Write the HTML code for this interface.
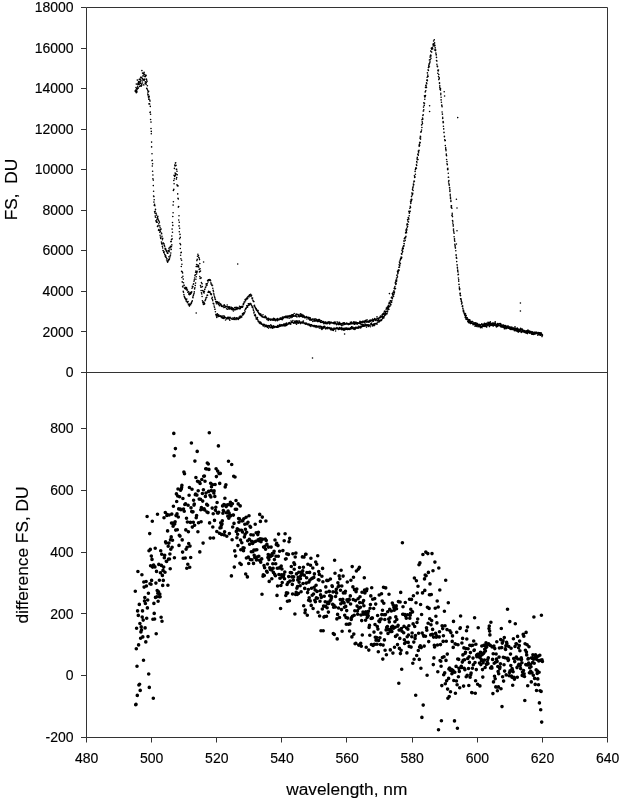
<!DOCTYPE html>
<html lang="en">
<head>
<meta charset="utf-8">
<title>FS spectra and difference</title>
<style>
html,body{margin:0;padding:0;background:#fff;}
body{width:622px;height:801px;overflow:hidden;}
svg{display:block;}
text{font-family:"Liberation Sans",Arial,sans-serif;fill:#000;stroke:#000;stroke-width:.15px;}
.tk text{font-size:14px;}
.ax{font-size:17.3px;}
</style>
</head>
<body>
<svg width="622" height="801" viewBox="0 0 622 801">
<rect width="622" height="801" fill="#fff"/>
<path d="M86.5 7.5H607.5V737.5H86.5ZM86.5 372.5H607.5" fill="none" stroke="#333" stroke-width="1"/>
<path d="M81 372.5H86.5M81 331.5H86.5M81 291.5H86.5M81 250.5H86.5M81 210.5H86.5M81 169.5H86.5M81 129.5H86.5M81 88.5H86.5M81 48.5H86.5M81 7.5H86.5M81 737.5H86.5M81 675.5H86.5M81 613.5H86.5M81 552.5H86.5M81 490.5H86.5M81 428.5H86.5M86.5 737.5V742.5M151.5 737.5V742.5M216.5 737.5V742.5M281.5 737.5V742.5M346.5 737.5V742.5M412.5 737.5V742.5M477.5 737.5V742.5M542.5 737.5V742.5M607.5 737.5V742.5" fill="none" stroke="#333" stroke-width="1"/>
<g class="tk">
<text x="73.6" y="377.1" text-anchor="end">0</text>
<text x="73.6" y="336.5" text-anchor="end">2000</text>
<text x="73.6" y="296" text-anchor="end">4000</text>
<text x="73.6" y="255.4" text-anchor="end">6000</text>
<text x="73.6" y="214.9" text-anchor="end">8000</text>
<text x="73.6" y="174.3" text-anchor="end">10000</text>
<text x="73.6" y="133.8" text-anchor="end">12000</text>
<text x="73.6" y="93.2" text-anchor="end">14000</text>
<text x="73.6" y="52.7" text-anchor="end">16000</text>
<text x="73.6" y="12.1" text-anchor="end">18000</text>
<text x="73.6" y="742.1" text-anchor="end">-200</text>
<text x="73.6" y="680.3" text-anchor="end">0</text>
<text x="73.6" y="618.5" text-anchor="end">200</text>
<text x="73.6" y="556.7" text-anchor="end">400</text>
<text x="73.6" y="494.9" text-anchor="end">600</text>
<text x="73.6" y="433.1" text-anchor="end">800</text>
<text x="86.6" y="762.8" text-anchor="middle">480</text>
<text x="151.7" y="762.8" text-anchor="middle">500</text>
<text x="216.8" y="762.8" text-anchor="middle">520</text>
<text x="282" y="762.8" text-anchor="middle">540</text>
<text x="347.1" y="762.8" text-anchor="middle">560</text>
<text x="412.2" y="762.8" text-anchor="middle">580</text>
<text x="477.4" y="762.8" text-anchor="middle">600</text>
<text x="542.5" y="762.8" text-anchor="middle">620</text>
<text x="607.6" y="762.8" text-anchor="middle">640</text>
</g>
<text class="ax" x="346.8" y="795.3" text-anchor="middle">wavelength, nm</text>
<text class="ax" transform="translate(17.4 189.5) rotate(-90)" text-anchor="middle" style="white-space:pre">FS,  DU</text>
<text class="ax" transform="translate(28.3 555) rotate(-90)" text-anchor="middle">difference FS, DU</text>
<path d="M135.3 91.4h.01M135.7 90.1h.01M136 91.4h.01M136.3 92.7h.01M136.6 90.9h.01M137 91.9h.01M137.3 88.3h.01M137.6 84.1h.01M137.9 88.4h.01M138.3 88.1h.01M138.6 84.5h.01M138.9 84.2h.01M139.3 84.3h.01M139.6 86.4h.01M139.9 83.6h.01M140.2 81.4h.01M140.6 85.8h.01M140.9 83.2h.01M141.2 86.2h.01M141.5 84.3h.01M141.9 85.1h.01M142.2 81h.01M142.5 83h.01M142.8 79.3h.01M143.2 79.4h.01M143.5 80h.01M143.8 84.9h.01M144.1 80.5h.01M144.5 79.4h.01M144.8 79.2h.01M145.1 83.2h.01M145.4 81.8h.01M145.8 83.7h.01M146.1 84.5h.01M146.4 82.4h.01M146.7 88.4h.01M147.1 89h.01M147.4 89.2h.01M147.7 94h.01M148 95.1h.01M148.4 96.9h.01M148.7 99.2h.01M149 103.9h.01M149.3 103.7h.01M149.7 104h.01M150 112.5h.01M150.3 112.1h.01M150.6 119.5h.01M151 128.5h.01M151.3 133.8h.01M151.6 146.9h.01M152 160.6h.01M152.3 166h.01M152.6 171.3h.01M152.9 178.7h.01M153.3 185.6h.01M153.6 196.1h.01M153.9 202.1h.01M154.2 205.2h.01M154.6 211.5h.01M154.9 212.9h.01M155.2 216.1h.01M155.5 217.3h.01M155.9 220.8h.01M156.2 221.5h.01M156.5 222.3h.01M156.8 221.8h.01M157.2 222.3h.01M157.5 226.4h.01M157.8 226.5h.01M158.1 225.6h.01M158.5 230.3h.01M158.8 229.5h.01M159.1 230.4h.01M159.4 230.1h.01M159.8 232.3h.01M160.1 235.2h.01M160.4 237h.01M160.7 238.5h.01M161.1 238h.01M161.4 242h.01M161.7 243.4h.01M162 244.2h.01M162.4 246.4h.01M162.7 248h.01M163 250.6h.01M163.3 250.7h.01M163.7 252.5h.01M164 251.6h.01M164.3 253.1h.01M164.7 254.8h.01M165 254.7h.01M165.3 256.6h.01M165.6 255.6h.01M166 257.4h.01M166.3 257.3h.01M166.6 260h.01M166.9 258.6h.01M167.3 261.5h.01M167.6 262.2h.01M167.9 260.3h.01M168.2 261h.01M168.6 259.5h.01M168.9 256.7h.01M169.2 259.7h.01M169.5 258.8h.01M169.9 257.1h.01M170.2 255.8h.01M170.5 255h.01M170.8 253h.01M171.2 249.4h.01M171.5 246.8h.01M171.8 244.9h.01M172.1 238.9h.01M172.5 232.2h.01M172.8 225.4h.01M173.1 212.8h.01M173.4 201.8h.01M173.8 189.4h.01M174.1 183.7h.01M174.4 178.8h.01M174.7 176.4h.01M175.1 173.1h.01M175.4 175.3h.01M175.7 174.7h.01M176 173.8h.01M176.4 179.1h.01M176.7 177.5h.01M177 184.8h.01M177.3 185.8h.01M177.7 193.9h.01M178 198.4h.01M178.3 207.1h.01M178.7 220h.01M179 225.9h.01M179.3 231.8h.01M179.6 238.7h.01M180 243.5h.01M180.3 248.5h.01M180.6 255.3h.01M180.9 258.8h.01M181.3 266.5h.01M181.6 271.4h.01M181.9 277.5h.01M182.2 281.9h.01M182.6 286.2h.01M182.9 286.9h.01M183.2 291.3h.01M183.5 292.3h.01M183.9 294.6h.01M184.2 296.3h.01M184.5 296.9h.01M184.8 297.9h.01M185.2 298h.01M185.5 299h.01M185.8 299.5h.01M186.1 301h.01M186.5 301h.01M186.8 299.1h.01M187.1 301.8h.01M187.4 302.7h.01M187.8 301.9h.01M188.1 301.5h.01M188.4 304.7h.01M188.7 304h.01M189.1 304.8h.01M189.4 306.1h.01M189.7 304h.01M190 304.7h.01M190.4 304.5h.01M190.7 304.8h.01M191 303.1h.01M191.4 303.2h.01M191.7 301.9h.01M192 301.8h.01M192.3 300.8h.01M192.7 297.1h.01M193 297.7h.01M193.3 295.7h.01M193.6 294.7h.01M194 293.6h.01M194.3 291.9h.01M194.6 288.9h.01M194.9 287.8h.01M195.3 285.5h.01M195.6 283.1h.01M195.9 279.3h.01M196.2 276.7h.01M196.6 274h.01M196.9 272.4h.01M197.2 271.2h.01M197.5 266.6h.01M197.9 265.1h.01M198.2 265.7h.01M198.5 265.6h.01M198.8 267.1h.01M199.2 269.4h.01M199.5 271.9h.01M199.8 276.5h.01M200.1 278.4h.01M200.5 285.5h.01M200.8 287.1h.01M201.1 290.5h.01M201.4 292.7h.01M201.8 294h.01M202.1 296.5h.01M202.4 300.7h.01M202.7 302.7h.01M203.1 301.8h.01M203.4 304.5h.01M203.7 303.7h.01M204.1 302.5h.01M204.4 304.1h.01M204.7 303.7h.01M205 300.7h.01M205.4 300h.01M205.7 299.3h.01M206 297.9h.01M206.3 297.7h.01M206.7 297.4h.01M207 295.2h.01M207.3 295.3h.01M207.6 295.2h.01M208 292.3h.01M208.3 292.3h.01M208.6 291.2h.01M208.9 292.2h.01M209.3 291.7h.01M209.6 292.1h.01M209.9 292.4h.01M210.2 292h.01M210.6 293.9h.01M210.9 293.7h.01M211.2 294.8h.01M211.5 294.1h.01M211.9 298.5h.01M212.2 297.4h.01M212.5 299.6h.01M212.8 300.8h.01M213.2 303.4h.01M213.5 303.7h.01M213.8 303.9h.01M214.1 306h.01M214.5 307.3h.01M214.8 309.2h.01M215.1 309.3h.01M215.4 311.7h.01M215.8 314.7h.01M216.1 314.3h.01M216.4 316h.01M216.8 317.4h.01M217.1 315.2h.01M217.4 313.8h.01M217.7 315.2h.01M218.1 316.4h.01M218.4 316.4h.01M218.7 314.8h.01M219 315.8h.01M219.4 316h.01M219.7 316.2h.01M220 316.3h.01M220.3 315.7h.01M220.7 316h.01M221 316.4h.01M221.3 317.6h.01M221.6 316.3h.01M222 317.4h.01M222.3 316h.01M222.6 318.1h.01M222.9 317.2h.01M223.3 317.2h.01M223.6 318.4h.01M223.9 315.9h.01M224.2 316.2h.01M224.6 317.9h.01M224.9 317h.01M225.2 317.4h.01M225.5 320h.01M225.9 317.7h.01M226.2 318h.01M226.5 318h.01M226.8 319h.01M227.2 318.4h.01M227.5 318.4h.01M227.8 317.3h.01M228.1 318.1h.01M228.5 318.5h.01M228.8 317.3h.01M229.1 319.1h.01M229.4 319h.01M229.8 320.3h.01M230.1 317.4h.01M230.4 318h.01M230.8 318.1h.01M231.1 318.3h.01M231.4 318.8h.01M231.7 318.8h.01M232.1 319.2h.01M232.4 319.2h.01M232.7 319h.01M233 317.7h.01M233.4 318.5h.01M233.7 319h.01M234 319.5h.01M234.3 319.5h.01M234.7 317.5h.01M235 318.4h.01M235.3 318.8h.01M235.6 319.1h.01M236 319.6h.01M236.3 318.7h.01M236.6 317.8h.01M236.9 318.8h.01M237.3 318.6h.01M237.6 318.5h.01M237.9 318.1h.01M238.2 319.5h.01M238.6 318.2h.01M238.9 318.6h.01M239.2 317h.01M239.5 318.3h.01M239.9 317h.01M240.2 316.1h.01M240.5 317.5h.01M240.8 317.6h.01M241.2 316.7h.01M241.5 316.5h.01M241.8 317h.01M242.1 315.3h.01M242.5 313.5h.01M242.8 315h.01M243.1 314.4h.01M243.5 314.6h.01M243.8 312.8h.01M244.1 313.6h.01M244.4 312.9h.01M244.8 310.3h.01M245.1 311.7h.01M245.4 309.3h.01M245.7 308.3h.01M246.1 308.7h.01M246.4 307.8h.01M246.7 305.8h.01M247 307.2h.01M247.4 306.9h.01M247.7 307.1h.01M248 305.5h.01M248.3 303.8h.01M248.7 303.9h.01M249 305.3h.01M249.3 305h.01M249.6 304.4h.01M250 303.5h.01M250.3 303.9h.01M250.6 303.6h.01M250.9 303.9h.01M251.3 305h.01M251.6 305.5h.01M251.9 306.1h.01M252.2 307.2h.01M252.6 307.5h.01M252.9 307.1h.01M253.2 309h.01M253.5 310.4h.01M253.9 312.9h.01M254.2 312h.01M254.5 315.1h.01M254.8 315.6h.01M255.2 314.6h.01M255.5 315.5h.01M255.8 317h.01M256.2 318.9h.01M256.5 318.3h.01M256.8 319.1h.01M257.1 318.5h.01M257.5 317.6h.01M257.8 319.8h.01M258.1 321.1h.01M258.4 321.8h.01M258.8 321.3h.01M259.1 321.8h.01M259.4 323h.01M259.7 322.2h.01M260.1 323.6h.01M260.4 322h.01M260.7 322.4h.01M261 322.6h.01M261.4 324.1h.01M261.7 323.5h.01M262 324.2h.01M262.3 324.5h.01M262.7 324.7h.01M263 325.6h.01M263.3 325.9h.01M263.6 324.2h.01M264 325.1h.01M264.3 325h.01M264.6 324.5h.01M264.9 326.8h.01M265.3 326.2h.01M265.6 325.5h.01M265.9 325.5h.01M266.2 326.2h.01M266.6 325.2h.01M266.9 325.9h.01M267.2 327.2h.01M267.5 327.1h.01M267.9 325.8h.01M268.2 326.1h.01M268.5 328.1h.01M268.9 325.6h.01M269.2 326.2h.01M269.5 325.7h.01M269.8 327.1h.01M270.2 327.1h.01M270.5 327.8h.01M270.8 324.9h.01M271.1 327h.01M271.5 325.6h.01M271.8 327.4h.01M272.1 326.8h.01M272.4 328.2h.01M272.8 327.2h.01M273.1 326.1h.01M273.4 327.8h.01M273.7 325.9h.01M274.1 326.5h.01M274.4 327.5h.01M274.7 327.1h.01M275 327h.01M275.4 326.6h.01M275.7 326.9h.01M276 327.1h.01M276.3 326.7h.01M276.7 327.2h.01M277 327.3h.01M277.3 326.3h.01M277.6 325.5h.01M278 327.3h.01M278.3 326h.01M278.6 326.5h.01M278.9 326.7h.01M279.3 325.1h.01M279.6 326.2h.01M279.9 324.5h.01M280.2 326.2h.01M280.6 325.2h.01M280.9 325.6h.01M281.2 326h.01M281.5 324.8h.01M281.9 325.4h.01M282.2 324.7h.01M282.5 325.1h.01M282.9 325.9h.01M283.2 325h.01M283.5 324.8h.01M283.8 324h.01M284.2 325.5h.01M284.5 324.7h.01M284.8 325.9h.01M285.1 323.9h.01M285.5 325.2h.01M285.8 325.7h.01M286.1 324.2h.01M286.4 323.1h.01M286.8 325.2h.01M287.1 324.7h.01M287.4 324.3h.01M287.7 324.5h.01M288.1 323.2h.01M288.4 324h.01M288.7 323.8h.01M289 322.7h.01M289.4 323.7h.01M289.7 322.6h.01M290 323.6h.01M290.3 323.7h.01M290.7 324.2h.01M291 321h.01M291.3 322.7h.01M291.6 322.2h.01M292 322.3h.01M292.3 322.1h.01M292.6 322.1h.01M292.9 320.6h.01M293.3 323h.01M293.6 323.3h.01M293.9 322.9h.01M294.2 323.1h.01M294.6 321.4h.01M294.9 321.3h.01M295.2 322.8h.01M295.6 323.1h.01M295.9 322.3h.01M296.2 320.8h.01M296.5 324.3h.01M296.9 321.6h.01M297.2 322.9h.01M297.5 321.1h.01M297.8 322.9h.01M298.2 322.2h.01M298.5 323.2h.01M298.8 322.8h.01M299.1 320.9h.01M299.5 321.3h.01M299.8 322.3h.01M300.1 322.7h.01M300.4 323.6h.01M300.8 322.4h.01M301.1 322.1h.01M301.4 322.2h.01M301.7 322.3h.01M302.1 323.2h.01M302.4 322.4h.01M302.7 322.4h.01M303 321.4h.01M303.4 321.1h.01M303.7 322.8h.01M304 323.4h.01M304.3 323h.01M304.7 323.5h.01M305 323.7h.01M305.3 323.3h.01M305.6 324.2h.01M306 323h.01M306.3 323.6h.01M306.6 323.4h.01M306.9 323.9h.01M307.3 324.4h.01M307.6 324.7h.01M307.9 324.2h.01M308.3 324.5h.01M308.6 324h.01M308.9 324.3h.01M309.2 325.5h.01M309.6 324.4h.01M309.9 325.6h.01M310.2 325.1h.01M310.5 325h.01M310.9 326.5h.01M311.2 324.8h.01M311.5 324.9h.01M311.8 325.2h.01M312.2 325.5h.01M312.5 325.6h.01M312.8 326.1h.01M313.1 325.7h.01M313.5 326h.01M313.8 325.6h.01M314.1 326.7h.01M314.4 325.6h.01M314.8 325.8h.01M315.1 326.1h.01M315.4 326.4h.01M315.7 325.7h.01M316.1 327.5h.01M316.4 325.9h.01M316.7 326.2h.01M317 326.2h.01M317.4 326.2h.01M317.7 327.1h.01M318 326.9h.01M318.3 326.2h.01M318.7 326.4h.01M319 326.7h.01M319.3 328.1h.01M319.6 326.5h.01M320 326.1h.01M320.3 326.3h.01M320.6 326.9h.01M321 328.4h.01M321.3 326.5h.01M321.6 327.4h.01M321.9 329.4h.01M322.3 327.1h.01M322.6 328.6h.01M322.9 328.5h.01M323.2 328.1h.01M323.6 326.6h.01M323.9 328h.01M324.2 327.5h.01M324.5 326.4h.01M324.9 326.6h.01M325.2 327.9h.01M325.5 328.1h.01M325.8 328.9h.01M326.2 328.5h.01M326.5 327.7h.01M326.8 327.8h.01M327.1 328h.01M327.5 327.4h.01M327.8 328.8h.01M328.1 328.3h.01M328.4 327.7h.01M328.8 327.8h.01M329.1 327.5h.01M329.4 328h.01M329.7 328.6h.01M330.1 328.1h.01M330.4 329.2h.01M330.7 329.7h.01M331 328h.01M331.4 328.5h.01M331.7 328.3h.01M332 329.9h.01M332.3 328.9h.01M332.7 329.1h.01M333 329.3h.01M333.3 330.4h.01M333.6 328.9h.01M334 328h.01M334.3 328.4h.01M334.6 329.2h.01M335 328.8h.01M335.3 328.2h.01M335.6 331h.01M335.9 328.9h.01M336.3 328.4h.01M336.6 328.3h.01M336.9 327.6h.01M337.2 328h.01M337.6 328.7h.01M337.9 328.7h.01M338.2 328.3h.01M338.5 329.4h.01M338.9 329h.01M339.2 328.3h.01M339.5 327.5h.01M339.8 329.1h.01M340.2 329h.01M340.5 328.8h.01M340.8 328h.01M341.1 329h.01M341.5 327.9h.01M341.8 329.8h.01M342.1 329.1h.01M342.4 329.1h.01M342.8 328.4h.01M343.1 328.2h.01M343.4 330.1h.01M343.7 329.7h.01M344.1 328.7h.01M344.4 329.5h.01M344.7 330.1h.01M345 328.1h.01M345.4 328.5h.01M345.7 328.5h.01M346 329.2h.01M346.3 328h.01M346.7 329h.01M347 328h.01M347.3 329.5h.01M347.7 329.4h.01M348 328.6h.01M348.3 329.3h.01M348.6 328.2h.01M349 328.5h.01M349.3 329.4h.01M349.6 328.6h.01M349.9 328.9h.01M350.3 327.9h.01M350.6 329.1h.01M350.9 328.9h.01M351.2 327.6h.01M351.6 326.7h.01M351.9 326.9h.01M352.2 328.4h.01M352.5 328.2h.01M352.9 327.2h.01M353.2 328.4h.01M353.5 329.1h.01M353.8 328.2h.01M354.2 327.8h.01M354.5 328.8h.01M354.8 329.4h.01M355.1 329.2h.01M355.5 327.4h.01M355.8 328.5h.01M356.1 327.9h.01M356.4 327.6h.01M356.8 327.2h.01M357.1 327.9h.01M357.4 327.2h.01M357.7 328.2h.01M358.1 327.7h.01M358.4 328.1h.01M358.7 326.3h.01M359 327.2h.01M359.4 327.6h.01M359.7 327.3h.01M360 327.1h.01M360.4 326.3h.01M360.7 328h.01M361 327.5h.01M361.3 326.9h.01M361.7 324.5h.01M362 325.6h.01M362.3 326.4h.01M362.6 325.7h.01M363 324.5h.01M363.3 326.3h.01M363.6 326.3h.01M363.9 325h.01M364.3 325.5h.01M364.6 325.3h.01M364.9 326.2h.01M365.2 324.2h.01M365.6 324.3h.01M365.9 325.2h.01M366.2 325h.01M366.5 327.1h.01M366.9 324.9h.01M367.2 325.6h.01M367.5 325h.01M367.8 324.7h.01M368.2 325.5h.01M368.5 326.5h.01M368.8 324.8h.01M369.1 325.7h.01M369.5 325.3h.01M369.8 325.5h.01M370.1 325.2h.01M370.4 326.7h.01M370.8 323.8h.01M371.1 324.5h.01M371.4 323.8h.01M371.7 323h.01M372.1 324.5h.01M372.4 325.9h.01M372.7 325.1h.01M373.1 325.3h.01M373.4 324.6h.01M373.7 324.1h.01M374 325.7h.01M374.4 323.7h.01M374.7 325.1h.01M375 323.6h.01M375.3 323.8h.01M375.7 323.8h.01M376 323.5h.01M376.3 323.7h.01M376.6 323.6h.01M377 324.3h.01M377.3 322.8h.01M377.6 321h.01M377.9 320.7h.01M378.3 321.1h.01M378.6 321.3h.01M378.9 322.3h.01M379.2 320.2h.01M379.6 321.2h.01M379.9 321h.01M380.2 320.9h.01M380.5 320.3h.01M380.9 320.4h.01M381.2 319.9h.01M381.5 320.4h.01M381.8 319.5h.01M382.2 316.9h.01M382.5 318.5h.01M382.8 318.3h.01M383.1 317.3h.01M383.5 316.8h.01M383.8 317.9h.01M384.1 316.7h.01M384.4 315.3h.01M384.8 315.4h.01M385.1 315.1h.01M385.4 313.4h.01M385.7 314.8h.01M386.1 313.6h.01M386.4 313.6h.01M386.7 311.3h.01M387.1 313.7h.01M387.4 311.9h.01M387.7 311.1h.01M388 309.4h.01M388.4 308.7h.01M388.7 307.2h.01M389 309.2h.01M389.3 306.3h.01M389.7 306.4h.01M390 306h.01M390.3 304h.01M390.6 304.6h.01M391 304.8h.01M391.3 302.3h.01M391.6 302.4h.01M391.9 300.7h.01M392.3 298.7h.01M392.6 297.7h.01M392.9 295.4h.01M393.2 296.1h.01M393.6 296.2h.01M393.9 294.2h.01M394.2 293.1h.01M394.5 292.1h.01M394.9 289h.01M395.2 288.7h.01M395.5 288.6h.01M395.8 284.4h.01M396.2 283.7h.01M396.5 281.5h.01M396.8 280.1h.01M397.1 277.8h.01M397.5 276.7h.01M397.8 273.7h.01M398.1 272.9h.01M398.4 271.3h.01M398.8 269.7h.01M399.1 270.2h.01M399.4 267.2h.01M399.8 265.7h.01M400.1 263.6h.01M400.4 263.7h.01M400.7 258.6h.01M401.1 258.7h.01M401.4 258.5h.01M401.7 257.4h.01M402 254h.01M402.4 252.2h.01M402.7 251.4h.01M403 249h.01M403.3 248.5h.01M403.7 245.7h.01M404 245.9h.01M404.3 243.7h.01M404.6 241h.01M405 237.5h.01M405.3 240.3h.01M405.6 237.8h.01M405.9 236.4h.01M406.3 232.4h.01M406.6 232.8h.01M406.9 229.9h.01M407.2 227.3h.01M407.6 226.5h.01M407.9 224.5h.01M408.2 221.8h.01M408.5 222h.01M408.9 219.1h.01M409.2 215.7h.01M409.5 212.9h.01M409.8 211.2h.01M410.2 211.3h.01M410.5 207.4h.01M410.8 203.5h.01M411.1 201.7h.01M411.5 200.4h.01M411.8 199.4h.01M412.1 195.1h.01M412.5 194.6h.01M412.8 193.3h.01M413.1 190.5h.01M413.4 185.1h.01M413.8 184.7h.01M414.1 181.1h.01M414.4 181.3h.01M414.7 177h.01M415.1 177h.01M415.4 174.2h.01M415.7 168.1h.01M416 168.5h.01M416.4 168.2h.01M416.7 165.5h.01M417 162.7h.01M417.3 159.2h.01M417.7 159.7h.01M418 159.5h.01M418.3 155.2h.01M418.6 152.7h.01M419 150.4h.01M419.3 146.2h.01M419.6 145.4h.01M419.9 142.2h.01M420.3 142.7h.01M420.6 136.9h.01M420.9 132.3h.01M421.2 131.8h.01M421.6 130h.01M421.9 127.5h.01M422.2 122.1h.01M422.5 123.6h.01M422.9 119.1h.01M423.2 114.8h.01M423.5 111h.01M423.8 109.8h.01M424.2 105.4h.01M424.5 103.2h.01M424.8 99.3h.01M425.2 96.7h.01M425.5 95.5h.01M425.8 90.8h.01M426.1 86.7h.01M426.5 87.5h.01M426.8 83.8h.01M427.1 79.9h.01M427.4 80.8h.01M427.8 76.4h.01M428.1 76.5h.01M428.4 70.5h.01M428.7 66.3h.01M429.1 64.8h.01M429.4 66.8h.01M429.7 63h.01M430 61.9h.01M430.4 59.8h.01M430.7 55h.01M431 58.2h.01M431.3 51.8h.01M431.7 52.1h.01M432 47.9h.01M432.3 48.8h.01M432.6 49h.01M433 46h.01M433.3 44h.01M433.6 44.6h.01M433.9 43.6h.01M434.3 45.9h.01M434.6 50h.01M434.9 45.8h.01M435.2 47.8h.01M435.6 50.6h.01M435.9 53.2h.01M436.2 54.5h.01M436.5 60.5h.01M436.9 64.2h.01M437.2 66.1h.01M437.5 66.2h.01M437.8 73.2h.01M438.2 70.9h.01M438.5 76.5h.01M438.8 79.6h.01M439.2 77.8h.01M439.5 82.8h.01M439.8 87.6h.01M440.1 89h.01M440.5 90.1h.01M440.8 93.3h.01M441.1 99.9h.01M441.4 102.3h.01M441.8 105.8h.01M442.1 112h.01M442.4 114.1h.01M442.7 118.4h.01M443.1 122.8h.01M443.4 126.2h.01M443.7 128.8h.01M444 132.3h.01M444.4 136.7h.01M444.7 139.8h.01M445 140.8h.01M445.3 145.6h.01M445.7 147.9h.01M446 150.8h.01M446.3 155.1h.01M446.6 155.8h.01M447 163.8h.01M447.3 164.6h.01M447.6 169.6h.01M447.9 169.6h.01M448.3 173.2h.01M448.6 181.9h.01M448.9 183.8h.01M449.2 184.8h.01M449.6 187.9h.01M449.9 191.4h.01M450.2 195.8h.01M450.5 198.4h.01M450.9 201.5h.01M451.2 205.9h.01M451.5 207.7h.01M451.9 215.5h.01M452.2 214.9h.01M452.5 220.5h.01M452.8 221.2h.01M453.2 226.1h.01M453.5 230.2h.01M453.8 231.9h.01M454.1 236.8h.01M454.5 240.1h.01M454.8 244.2h.01M455.1 245.5h.01M455.4 248.1h.01M455.8 250.7h.01M456.1 255.3h.01M456.4 257.2h.01M456.7 261.6h.01M457.1 264.9h.01M457.4 267.3h.01M457.7 270h.01M458 274.7h.01M458.4 278h.01M458.7 281.3h.01M459 284.4h.01M459.3 288.7h.01M459.7 289.7h.01M460 293.9h.01M460.3 295.5h.01M460.6 298.8h.01M461 299.7h.01M461.3 301.5h.01M461.6 304h.01M461.9 303.3h.01M462.3 306.3h.01M462.6 306.4h.01M462.9 308.4h.01M463.2 311.1h.01M463.6 311.9h.01M463.9 312.2h.01M464.2 313.5h.01M464.6 314.4h.01M464.9 315.5h.01M465.2 317.5h.01M465.5 316.8h.01M465.9 319.1h.01M466.2 317.5h.01M466.5 319h.01M466.8 319.5h.01M467.2 319.5h.01M467.5 319.6h.01M467.8 321.4h.01M468.1 322h.01M468.5 321.7h.01M468.8 322.8h.01M469.1 322.2h.01M469.4 320.4h.01M469.8 322.8h.01M470.1 321.7h.01M470.4 323.6h.01M470.7 322.4h.01M471.1 323.1h.01M471.4 323.1h.01M471.7 322.8h.01M472 322h.01M472.4 323.5h.01M472.7 323.7h.01M473 324.7h.01M473.3 323.6h.01M473.7 324.4h.01M474 323.7h.01M474.3 324.5h.01M474.6 323.2h.01M475 326.3h.01M475.3 325.1h.01M475.6 324.3h.01M475.9 325.4h.01M476.3 325.9h.01M476.6 325.5h.01M476.9 326.5h.01M477.2 325.4h.01M477.6 323.7h.01M477.9 324.8h.01M478.2 326.7h.01M478.6 326.5h.01M478.9 326.2h.01M479.2 325.1h.01M479.5 326.6h.01M479.9 326.5h.01M480.2 325.3h.01M480.5 325.3h.01M480.8 326.3h.01M481.2 326.9h.01M481.5 327.2h.01M481.8 326.5h.01M482.1 327.7h.01M482.5 325.2h.01M482.8 326.3h.01M483.1 325.4h.01M483.4 324.2h.01M483.8 324.7h.01M484.1 326.5h.01M484.4 324.9h.01M484.7 324.6h.01M485.1 326h.01M485.4 326.2h.01M485.7 325.4h.01M486 326.6h.01M486.4 324h.01M486.7 327.1h.01M487 326h.01M487.3 325.3h.01M487.7 325.2h.01M488 324.8h.01M488.3 324.7h.01M488.6 325.1h.01M489 323.9h.01M489.3 326.6h.01M489.6 324.8h.01M489.9 325.4h.01M490.3 324.7h.01M490.6 324.6h.01M490.9 325.5h.01M491.3 325.3h.01M491.6 324.2h.01M491.9 324.6h.01M492.2 325.4h.01M492.6 323.2h.01M492.9 323.1h.01M493.2 326.1h.01M493.5 324.7h.01M493.9 323h.01M494.2 324.4h.01M494.5 324.9h.01M494.8 325.3h.01M495.2 325.6h.01M495.5 325.4h.01M495.8 325.7h.01M496.1 324.7h.01M496.5 325.7h.01M496.8 325.8h.01M497.1 326.4h.01M497.4 325.6h.01M497.8 326.3h.01M498.1 325.8h.01M498.4 324.8h.01M498.7 325.4h.01M499.1 325.4h.01M499.4 325.5h.01M499.7 325.8h.01M500 326h.01M500.4 326.3h.01M500.7 325.5h.01M501 327h.01M501.3 325.2h.01M501.7 326.3h.01M502 327h.01M502.3 326.9h.01M502.6 327.1h.01M503 326.5h.01M503.3 327.3h.01M503.6 325.9h.01M504 327.5h.01M504.3 328.8h.01M504.6 327.7h.01M504.9 328.8h.01M505.3 327.3h.01M505.6 326.5h.01M505.9 326.9h.01M506.2 328.6h.01M506.6 328.2h.01M506.9 326.3h.01M507.2 327.6h.01M507.5 327.9h.01M507.9 327.1h.01M508.2 326.1h.01M508.5 327.1h.01M508.8 328.1h.01M509.2 328h.01M509.5 327.9h.01M509.8 328.9h.01M510.1 329.3h.01M510.5 328.5h.01M510.8 329.4h.01M511.1 328.8h.01M511.4 328.7h.01M511.8 327h.01M512.1 329.6h.01M512.4 329.1h.01M512.7 329.2h.01M513.1 328.8h.01M513.4 328.4h.01M513.7 329.7h.01M514 330h.01M514.4 330.7h.01M514.7 330.2h.01M515 329.2h.01M515.3 329.6h.01M515.7 330.5h.01M516 330.1h.01M516.3 329.8h.01M516.7 329.6h.01M517 330.5h.01M517.3 330.3h.01M517.6 331.6h.01M518 331.1h.01M518.3 329.1h.01M518.6 332.1h.01M518.9 330.7h.01M519.3 330.4h.01M519.6 330.9h.01M519.9 331.3h.01M520.2 330.8h.01M520.6 330.9h.01M520.9 331h.01M521.2 332.4h.01M521.5 331.2h.01M521.9 331.8h.01M522.2 331.7h.01M522.5 331.1h.01M522.8 330.9h.01M523.2 330.8h.01M523.5 331.9h.01M523.8 330.9h.01M524.1 330.8h.01M524.5 330.9h.01M524.8 330.8h.01M525.1 332h.01M525.4 332.1h.01M525.8 331.4h.01M526.1 333.1h.01M526.4 332h.01M526.7 332.6h.01M527.1 332.5h.01M527.4 333.6h.01M527.7 333h.01M528 332.4h.01M528.4 331.8h.01M528.7 331.8h.01M529 332.6h.01M529.4 332.8h.01M529.7 333.3h.01M530 332.4h.01M530.3 333h.01M530.7 332.4h.01M531 331.6h.01M531.3 333h.01M531.6 334.1h.01M532 333.7h.01M532.3 334.2h.01M532.6 334.1h.01M532.9 332.2h.01M533.3 333.1h.01M533.6 334.5h.01M533.9 332.9h.01M534.2 332.5h.01M534.6 333.8h.01M534.9 334.1h.01M535.2 333.9h.01M535.5 333.5h.01M535.9 333.2h.01M536.2 332.9h.01M536.5 332.9h.01M536.8 333h.01M537.2 332.9h.01M537.5 333.5h.01M537.8 335.2h.01M538.1 334.2h.01M538.5 333.9h.01M538.8 334.5h.01M539.1 333.6h.01M539.4 334.6h.01M539.8 335.1h.01M540.1 333.4h.01M540.4 334h.01M540.7 334.4h.01M541.1 334h.01M541.4 333.9h.01M541.7 334.5h.01M542 336.6h.01M542.4 335.4h.01M135.3 90.6h.01M135.7 91.7h.01M136 87.6h.01M136.3 84.1h.01M136.6 88.4h.01M137 89.6h.01M137.3 80.1h.01M137.6 86.2h.01M137.9 87.5h.01M138.3 82.8h.01M138.6 81.6h.01M138.9 83.8h.01M139.3 79.4h.01M139.6 82h.01M139.9 82.4h.01M140.2 79.1h.01M140.6 77.2h.01M140.9 80h.01M141.2 77.2h.01M141.5 77.7h.01M141.9 70.6h.01M142.2 78.2h.01M142.5 73.1h.01M142.8 76h.01M143.2 75.9h.01M143.5 73.9h.01M143.8 73.3h.01M144.1 72.4h.01M144.5 74.4h.01M144.8 76.4h.01M145.1 76.7h.01M145.4 75.3h.01M145.8 76.1h.01M146.1 75.4h.01M146.4 79.1h.01M146.7 80h.01M147.1 81.2h.01M147.4 85.7h.01M147.7 90.8h.01M148 92.2h.01M148.4 94.8h.01M148.7 91.2h.01M149 97.9h.01M149.3 96.3h.01M149.7 100.1h.01M150 101.1h.01M150.3 106.4h.01M150.6 114.3h.01M151 122.1h.01M151.3 131.4h.01M151.6 142.1h.01M152 153.7h.01M152.3 160.3h.01M152.6 163.7h.01M152.9 175h.01M153.3 180.1h.01M153.6 191.2h.01M153.9 196.6h.01M154.2 199.8h.01M154.6 204.2h.01M154.9 205.7h.01M155.2 211.2h.01M155.5 209.4h.01M155.9 213.5h.01M156.2 213.3h.01M156.5 215.1h.01M156.8 219.8h.01M157.2 218.1h.01M157.5 217.4h.01M157.8 216.4h.01M158.1 219.1h.01M158.5 220.2h.01M158.8 223.7h.01M159.1 221.3h.01M159.4 222.2h.01M159.8 225.9h.01M160.1 227.8h.01M160.4 231.2h.01M160.7 229.6h.01M161.1 229h.01M161.4 233h.01M161.7 233.8h.01M162 236.3h.01M162.4 239.7h.01M162.7 238.4h.01M163 243h.01M163.3 243h.01M163.7 243.6h.01M164 243.9h.01M164.3 245.4h.01M164.7 246.2h.01M165 248.3h.01M165.3 249.5h.01M165.6 248.5h.01M166 249.9h.01M166.3 251.1h.01M166.6 251.6h.01M166.9 251.1h.01M167.3 253.1h.01M167.6 252.8h.01M167.9 253.3h.01M168.2 251h.01M168.6 250.5h.01M168.9 248.2h.01M169.2 251.7h.01M169.5 250h.01M169.9 247.3h.01M170.2 247.7h.01M170.5 246.2h.01M170.8 241.6h.01M171.2 241.6h.01M171.5 239.6h.01M171.8 236h.01M172.1 229.1h.01M172.5 222.5h.01M172.8 216.5h.01M173.1 205.1h.01M173.4 190.4h.01M173.8 180.5h.01M174.1 175.4h.01M174.4 168.4h.01M174.7 165.1h.01M175.1 166h.01M175.4 163.1h.01M175.7 162.7h.01M176 165.4h.01M176.4 169.4h.01M176.7 169.3h.01M177 171.3h.01M177.3 174.7h.01M177.7 185.9h.01M178 185.9h.01M178.3 198.9h.01M178.7 206.6h.01M179 215.8h.01M179.3 222.3h.01M179.6 228.3h.01M180 234.4h.01M180.3 237.4h.01M180.6 244.7h.01M180.9 252.7h.01M181.3 252.4h.01M181.6 260.2h.01M181.9 264.3h.01M182.2 271.8h.01M182.6 272.9h.01M182.9 276.2h.01M183.2 279.1h.01M183.5 282.8h.01M183.9 285.2h.01M184.2 285.3h.01M184.5 288.1h.01M184.8 288.4h.01M185.2 287.3h.01M185.5 289h.01M185.8 288.7h.01M186.1 289.1h.01M186.5 287.6h.01M186.8 288.7h.01M187.1 290.5h.01M187.4 289.8h.01M187.8 292.2h.01M188.1 292.3h.01M188.4 291.6h.01M188.7 294.1h.01M189.1 293.6h.01M189.4 294.8h.01M189.7 293.6h.01M190 292.2h.01M190.4 294.3h.01M190.7 292.9h.01M191 293.4h.01M191.4 292.8h.01M191.7 291.9h.01M192 288.3h.01M192.3 286.3h.01M192.7 286.9h.01M193 286.8h.01M193.3 284.2h.01M193.6 283.9h.01M194 281.2h.01M194.3 279.9h.01M194.6 278h.01M194.9 275.6h.01M195.3 274.7h.01M195.6 272.3h.01M195.9 271.1h.01M196.2 266.6h.01M196.6 264.6h.01M196.9 260.6h.01M197.2 259.4h.01M197.5 256.2h.01M197.9 254.3h.01M198.2 255.7h.01M198.5 255.7h.01M198.8 257.6h.01M199.2 258.1h.01M199.5 259.6h.01M199.8 263.6h.01M200.1 268.8h.01M200.5 271.1h.01M200.8 278h.01M201.1 277.9h.01M201.4 282.6h.01M201.8 287h.01M202.1 283.8h.01M202.4 286.5h.01M202.7 290.5h.01M203.1 290.7h.01M203.4 292.1h.01M203.7 291.9h.01M204.1 293h.01M204.4 291.5h.01M204.7 289.6h.01M205 289h.01M205.4 287.2h.01M205.7 287.3h.01M206 284h.01M206.3 285.8h.01M206.7 283.9h.01M207 285.2h.01M207.3 283.8h.01M207.6 280.5h.01M208 282h.01M208.3 279.9h.01M208.6 279.9h.01M208.9 280.5h.01M209.3 279.6h.01M209.6 279.8h.01M209.9 280.2h.01M210.2 279.7h.01M210.6 280.7h.01M210.9 282.9h.01M211.2 284.3h.01M211.5 284.1h.01M211.9 285.5h.01M212.2 285.6h.01M212.5 285.2h.01M212.8 288.3h.01M213.2 290.4h.01M213.5 291.8h.01M213.8 293.7h.01M214.1 295.1h.01M214.5 296.7h.01M214.8 297.6h.01M215.1 299.1h.01M215.4 299.4h.01M215.8 301.6h.01M216.1 302.3h.01M216.4 303.8h.01M216.8 301.6h.01M217.1 302.8h.01M217.4 301.9h.01M217.7 303h.01M218.1 302.7h.01M218.4 304.4h.01M218.7 303.7h.01M219 302.2h.01M219.4 305.7h.01M219.7 303.8h.01M220 303.5h.01M220.3 304.8h.01M220.7 304.6h.01M221 304.3h.01M221.3 306.1h.01M221.6 305.2h.01M222 306.5h.01M222.3 306.4h.01M222.6 306.5h.01M222.9 306.2h.01M223.3 306h.01M223.6 305.9h.01M223.9 307.6h.01M224.2 304.8h.01M224.6 305.6h.01M224.9 306.1h.01M225.2 307.2h.01M225.5 307h.01M225.9 306.6h.01M226.2 306.8h.01M226.5 308.8h.01M226.8 306.8h.01M227.2 305h.01M227.5 309.2h.01M227.8 306.8h.01M228.1 307.5h.01M228.5 308h.01M228.8 306.8h.01M229.1 309.1h.01M229.4 308h.01M229.8 306.9h.01M230.1 308.5h.01M230.4 308.7h.01M230.8 308.3h.01M231.1 308.9h.01M231.4 307.2h.01M231.7 309.4h.01M232.1 307.9h.01M232.4 309.8h.01M232.7 308.1h.01M233 308.9h.01M233.4 311h.01M233.7 308.8h.01M234 309.7h.01M234.3 309.2h.01M234.7 307.5h.01M235 309.8h.01M235.3 309.7h.01M235.6 307.5h.01M236 308.7h.01M236.3 307.4h.01M236.6 308.4h.01M236.9 309.4h.01M237.3 308.7h.01M237.6 307.5h.01M237.9 307.7h.01M238.2 308.4h.01M238.6 308.3h.01M238.9 308.3h.01M239.2 308.7h.01M239.5 306.3h.01M239.9 307.9h.01M240.2 308.8h.01M240.5 308.1h.01M240.8 306.9h.01M241.2 306.8h.01M241.5 307.2h.01M241.8 307.3h.01M242.1 306.3h.01M242.5 307.3h.01M242.8 306.5h.01M243.1 304.1h.01M243.5 304.7h.01M243.8 303.4h.01M244.1 302h.01M244.4 302h.01M244.8 302h.01M245.1 299.6h.01M245.4 300.4h.01M245.7 300.7h.01M246.1 299h.01M246.4 298.6h.01M246.7 299.2h.01M247 297.7h.01M247.4 297.3h.01M247.7 298.6h.01M248 296.5h.01M248.3 296.2h.01M248.7 296h.01M249 296.9h.01M249.3 295.4h.01M249.6 294.8h.01M250 294.6h.01M250.3 295.7h.01M250.6 294.2h.01M250.9 296.3h.01M251.3 296h.01M251.6 295.2h.01M251.9 298h.01M252.2 298.7h.01M252.6 298h.01M252.9 300.2h.01M253.2 301h.01M253.5 301.4h.01M253.9 301.6h.01M254.2 305.6h.01M254.5 305.4h.01M254.8 306.6h.01M255.2 307.6h.01M255.5 308.3h.01M255.8 309h.01M256.2 308.6h.01M256.5 310.2h.01M256.8 309.9h.01M257.1 310.2h.01M257.5 311.7h.01M257.8 311.4h.01M258.1 310.6h.01M258.4 312.2h.01M258.8 313.4h.01M259.1 313.4h.01M259.4 314.5h.01M259.7 313.8h.01M260.1 313.7h.01M260.4 315.4h.01M260.7 315.2h.01M261 314.4h.01M261.4 316h.01M261.7 315.6h.01M262 316.8h.01M262.3 316.9h.01M262.7 316.8h.01M263 314.8h.01M263.3 317.1h.01M263.6 317.3h.01M264 317.5h.01M264.3 317.4h.01M264.6 316.9h.01M264.9 317.4h.01M265.3 316.1h.01M265.6 317.7h.01M265.9 316.8h.01M266.2 317.9h.01M266.6 317.8h.01M266.9 319.5h.01M267.2 318.6h.01M267.5 318.7h.01M267.9 318.9h.01M268.2 320.5h.01M268.5 318.2h.01M268.9 319.3h.01M269.2 319.4h.01M269.5 319.4h.01M269.8 319.4h.01M270.2 319h.01M270.5 320.3h.01M270.8 320.1h.01M271.1 319.2h.01M271.5 319.3h.01M271.8 319.7h.01M272.1 319.9h.01M272.4 320.1h.01M272.8 319.5h.01M273.1 318.5h.01M273.4 320.3h.01M273.7 318.2h.01M274.1 318.7h.01M274.4 319.8h.01M274.7 318.7h.01M275 320.5h.01M275.4 320.7h.01M275.7 320.3h.01M276 319.6h.01M276.3 319.4h.01M276.7 319.6h.01M277 319h.01M277.3 320.8h.01M277.6 318.6h.01M278 320.1h.01M278.3 319.4h.01M278.6 319.2h.01M278.9 319.7h.01M279.3 319.8h.01M279.6 319.5h.01M279.9 318.6h.01M280.2 318.1h.01M280.6 318h.01M280.9 319.2h.01M281.2 319h.01M281.5 319h.01M281.9 317.9h.01M282.2 319.8h.01M282.5 317.1h.01M282.9 318.5h.01M283.2 318.6h.01M283.5 317.7h.01M283.8 317h.01M284.2 317.5h.01M284.5 316.9h.01M284.8 317.5h.01M285.1 316.6h.01M285.5 316.5h.01M285.8 317.5h.01M286.1 316.1h.01M286.4 317h.01M286.8 317h.01M287.1 317.7h.01M287.4 317.1h.01M287.7 316.1h.01M288.1 317.7h.01M288.4 316h.01M288.7 316.2h.01M289 316.1h.01M289.4 318.1h.01M289.7 316.2h.01M290 315.5h.01M290.3 316.6h.01M290.7 315.8h.01M291 317.8h.01M291.3 315.2h.01M291.6 316.2h.01M292 314.9h.01M292.3 317.1h.01M292.6 314.9h.01M292.9 315.7h.01M293.3 314.8h.01M293.6 316.2h.01M293.9 315.9h.01M294.2 313.5h.01M294.6 316.1h.01M294.9 316h.01M295.2 315.6h.01M295.6 316.3h.01M295.9 314.5h.01M296.2 314h.01M296.5 316.1h.01M296.9 316.9h.01M297.2 314.5h.01M297.5 314.6h.01M297.8 314.8h.01M298.2 314.6h.01M298.5 316.3h.01M298.8 315.7h.01M299.1 316.7h.01M299.5 316.8h.01M299.8 314.8h.01M300.1 316.2h.01M300.4 313.8h.01M300.8 315.6h.01M301.1 316.3h.01M301.4 315.1h.01M301.7 314.4h.01M302.1 315.6h.01M302.4 317.1h.01M302.7 315.8h.01M303 315.1h.01M303.4 316.8h.01M303.7 317.1h.01M304 315.8h.01M304.3 316.6h.01M304.7 317.7h.01M305 317.3h.01M305.3 317.7h.01M305.6 317h.01M306 317.2h.01M306.3 316.5h.01M306.6 317h.01M306.9 319h.01M307.3 317.5h.01M307.6 317.2h.01M307.9 317.6h.01M308.3 317.2h.01M308.6 318.6h.01M308.9 319.1h.01M309.2 317.6h.01M309.6 319.4h.01M309.9 320.3h.01M310.2 317.9h.01M310.5 319.4h.01M310.9 319.1h.01M311.2 320.1h.01M311.5 320.2h.01M311.8 320.1h.01M312.2 319.6h.01M312.5 319.1h.01M312.8 321.4h.01M313.1 319h.01M313.5 320.7h.01M313.8 320.7h.01M314.1 319.4h.01M314.4 320.1h.01M314.8 321.3h.01M315.1 318.7h.01M315.4 321h.01M315.7 320.2h.01M316.1 320.3h.01M316.4 319.4h.01M316.7 321h.01M317 319.9h.01M317.4 321.4h.01M317.7 320h.01M318 321.6h.01M318.3 321.3h.01M318.7 319.6h.01M319 320.9h.01M319.3 321.2h.01M319.6 319.6h.01M320 321.1h.01M320.3 322.1h.01M320.6 320.9h.01M321 322.5h.01M321.3 320.8h.01M321.6 320.8h.01M321.9 322.2h.01M322.3 322.3h.01M322.6 321.8h.01M322.9 322h.01M323.2 322.8h.01M323.6 321.6h.01M323.9 323.8h.01M324.2 322.6h.01M324.5 322.6h.01M324.9 322.5h.01M325.2 322.1h.01M325.5 323.4h.01M325.8 322h.01M326.2 322.7h.01M326.5 323.1h.01M326.8 323.7h.01M327.1 323.6h.01M327.5 322.4h.01M327.8 323.5h.01M328.1 322.8h.01M328.4 322h.01M328.8 322.1h.01M329.1 321.7h.01M329.4 323.2h.01M329.7 323.9h.01M330.1 322.2h.01M330.4 322.8h.01M330.7 322.2h.01M331 323.1h.01M331.4 322.2h.01M331.7 322.5h.01M332 322.7h.01M332.3 322.9h.01M332.7 323h.01M333 323.2h.01M333.3 323.2h.01M333.6 322.6h.01M334 323.8h.01M334.3 322.1h.01M334.6 323.6h.01M335 322.8h.01M335.3 323.6h.01M335.6 323.8h.01M335.9 322h.01M336.3 323.9h.01M336.6 324.7h.01M336.9 324.2h.01M337.2 324h.01M337.6 322.1h.01M337.9 323.6h.01M338.2 323h.01M338.5 324.6h.01M338.9 323.5h.01M339.2 323.3h.01M339.5 322.4h.01M339.8 324.4h.01M340.2 323.4h.01M340.5 323.7h.01M340.8 324.7h.01M341.1 323.9h.01M341.5 324.1h.01M341.8 325.7h.01M342.1 323.5h.01M342.4 323.5h.01M342.8 324.3h.01M343.1 325h.01M343.4 322.8h.01M343.7 323.7h.01M344.1 323.2h.01M344.4 322.9h.01M344.7 324.4h.01M345 323.3h.01M345.4 324.1h.01M345.7 324h.01M346 324h.01M346.3 323.9h.01M346.7 323h.01M347 323.8h.01M347.3 324h.01M347.7 324.1h.01M348 323.6h.01M348.3 324.6h.01M348.6 324.2h.01M349 323.9h.01M349.3 324.3h.01M349.6 323.9h.01M349.9 324.3h.01M350.3 322.2h.01M350.6 322.7h.01M350.9 323.4h.01M351.2 323.8h.01M351.6 322h.01M351.9 323.4h.01M352.2 323.8h.01M352.5 323.4h.01M352.9 323.4h.01M353.2 322.5h.01M353.5 323.6h.01M353.8 321.9h.01M354.2 324.2h.01M354.5 322.9h.01M354.8 324.2h.01M355.1 322h.01M355.5 323.6h.01M355.8 323.3h.01M356.1 322.5h.01M356.4 322.2h.01M356.8 324h.01M357.1 323.3h.01M357.4 324.1h.01M357.7 322.8h.01M358.1 322.9h.01M358.4 323.1h.01M358.7 323.2h.01M359 322.9h.01M359.4 323.2h.01M359.7 322.1h.01M360 321.2h.01M360.4 323.9h.01M360.7 322.4h.01M361 322.5h.01M361.3 321.7h.01M361.7 322.8h.01M362 322.1h.01M362.3 322.8h.01M362.6 321.3h.01M363 321.7h.01M363.3 321.9h.01M363.6 321.4h.01M363.9 321.8h.01M364.3 322.8h.01M364.6 321.1h.01M364.9 321.3h.01M365.2 321.6h.01M365.6 320.6h.01M365.9 320.4h.01M366.2 322.2h.01M366.5 321.9h.01M366.9 320h.01M367.2 320h.01M367.5 321.7h.01M367.8 322.1h.01M368.2 321.6h.01M368.5 321.4h.01M368.8 322.3h.01M369.1 320.9h.01M369.5 321.9h.01M369.8 321.8h.01M370.1 320.1h.01M370.4 321.3h.01M370.8 320.8h.01M371.1 320.2h.01M371.4 320h.01M371.7 320.8h.01M372.1 320.5h.01M372.4 321.1h.01M372.7 319h.01M373.1 319.8h.01M373.4 321.2h.01M373.7 320.2h.01M374 319.6h.01M374.4 319.7h.01M374.7 318.5h.01M375 318.8h.01M375.3 320.2h.01M375.7 319.8h.01M376 320.6h.01M376.3 319.2h.01M376.6 319.1h.01M377 316.9h.01M377.3 318.8h.01M377.6 320.5h.01M377.9 319.1h.01M378.3 318.3h.01M378.6 319.2h.01M378.9 318.6h.01M379.2 318h.01M379.6 317.2h.01M379.9 317.3h.01M380.2 317.7h.01M380.5 316h.01M380.9 316.8h.01M381.2 316.5h.01M381.5 316.9h.01M381.8 316.1h.01M382.2 314.6h.01M382.5 316.2h.01M382.8 314.5h.01M383.1 313.5h.01M383.5 314.1h.01M383.8 313.1h.01M384.1 313.9h.01M384.4 311.4h.01M384.8 311.1h.01M385.1 311.4h.01M385.4 312.7h.01M385.7 311.6h.01M386.1 309.3h.01M386.4 308.1h.01M386.7 308.8h.01M387.1 307.3h.01M387.4 308.3h.01M387.7 307.3h.01M388 306.4h.01M388.4 305.3h.01M388.7 306.4h.01M389 303.4h.01M389.3 302.2h.01M389.7 303.7h.01M390 303.1h.01M390.3 300.7h.01M390.6 300.9h.01M391 301.6h.01M391.3 297.7h.01M391.6 297.4h.01M391.9 297.1h.01M392.3 293.6h.01M392.6 294.5h.01M392.9 294.3h.01M393.2 292.4h.01M393.6 292.3h.01M393.9 290.8h.01M394.2 288.4h.01M394.5 288h.01M394.9 286.6h.01M395.2 283h.01M395.5 282.4h.01M395.8 280.9h.01M396.2 279.7h.01M396.5 278.1h.01M396.8 275.3h.01M397.1 275.2h.01M397.5 271.4h.01M397.8 272.8h.01M398.1 270.4h.01M398.4 270h.01M398.8 267.3h.01M399.1 264.8h.01M399.4 262.1h.01M399.8 262.9h.01M400.1 260.6h.01M400.4 259.4h.01M400.7 258.2h.01M401.1 257h.01M401.4 253.8h.01M401.7 254.2h.01M402 250.4h.01M402.4 248.9h.01M402.7 248.2h.01M403 247.2h.01M403.3 246.3h.01M403.7 241h.01M404 243.6h.01M404.3 238.7h.01M404.6 238.4h.01M405 238.1h.01M405.3 237.4h.01M405.6 232.9h.01M405.9 230.1h.01M406.3 231.5h.01M406.6 228.7h.01M406.9 224.9h.01M407.2 223.8h.01M407.6 219.6h.01M407.9 221h.01M408.2 217.5h.01M408.5 217.9h.01M408.9 211.4h.01M409.2 213.1h.01M409.5 213.1h.01M409.8 208.2h.01M410.2 206.2h.01M410.5 201.2h.01M410.8 202.2h.01M411.1 199.6h.01M411.5 196.6h.01M411.8 193h.01M412.1 193.2h.01M412.5 189.4h.01M412.8 187.9h.01M413.1 186.9h.01M413.4 184.1h.01M413.8 182h.01M414.1 181.1h.01M414.4 175.8h.01M414.7 177.4h.01M415.1 171.4h.01M415.4 169.5h.01M415.7 168.9h.01M416 167.7h.01M416.4 164.7h.01M416.7 161.5h.01M417 158.9h.01M417.3 157.4h.01M417.7 154.2h.01M418 154.4h.01M418.3 151.1h.01M418.6 151.7h.01M419 145.9h.01M419.3 144.6h.01M419.6 143.1h.01M419.9 138.1h.01M420.3 136.2h.01M420.6 139.1h.01M420.9 131.9h.01M421.2 131.6h.01M421.6 124.9h.01M421.9 119.8h.01M422.2 121.9h.01M422.5 118h.01M422.9 115.4h.01M423.2 111h.01M423.5 107.1h.01M423.8 102.8h.01M424.2 103.4h.01M424.5 95.9h.01M424.8 97h.01M425.2 91.9h.01M425.5 87.4h.01M425.8 85.4h.01M426.1 85.8h.01M426.5 82.9h.01M426.8 80.2h.01M427.1 77.2h.01M427.4 72.9h.01M427.8 75.1h.01M428.1 69.9h.01M428.4 67.6h.01M428.7 65.7h.01M429.1 63.9h.01M429.4 60h.01M429.7 59.8h.01M430 57.1h.01M430.4 55.5h.01M430.7 51.1h.01M431 55.9h.01M431.3 48.2h.01M431.7 49.3h.01M432 48h.01M432.3 47.9h.01M432.6 48.3h.01M433 44.3h.01M433.3 43.9h.01M433.6 41h.01M433.9 44.6h.01M434.3 39.7h.01M434.6 42.9h.01M434.9 45.4h.01M435.2 48h.01M435.6 49.9h.01M435.9 53h.01M436.2 55h.01M436.5 57.4h.01M436.9 61.1h.01M437.2 66.2h.01M437.5 66.7h.01M437.8 70.3h.01M438.2 70.7h.01M438.5 70h.01M438.8 74.5h.01M439.2 78.6h.01M439.5 83.5h.01M439.8 85.9h.01M440.1 89.4h.01M440.5 88.6h.01M440.8 94.8h.01M441.1 97.2h.01M441.4 102.3h.01M441.8 105.1h.01M442.1 106.8h.01M442.4 114.2h.01M442.7 117.3h.01M443.1 121.6h.01M443.4 122.3h.01M443.7 128.9h.01M444 132.6h.01M444.4 136.4h.01M444.7 139.8h.01M445 140.3h.01M445.3 140.4h.01M445.7 149.3h.01M446 149.7h.01M446.3 154.1h.01M446.6 159.5h.01M447 161.6h.01M447.3 164.8h.01M447.6 168.8h.01M447.9 168.2h.01M448.3 177.2h.01M448.6 177.2h.01M448.9 180.6h.01M449.2 185.3h.01M449.6 187.6h.01M449.9 189.9h.01M450.2 194.3h.01M450.5 197.3h.01M450.9 200.2h.01M451.2 207.3h.01M451.5 205.9h.01M451.9 208.2h.01M452.2 213.3h.01M452.5 216.6h.01M452.8 223.1h.01M453.2 224.8h.01M453.5 229h.01M453.8 232h.01M454.1 233.3h.01M454.5 238.8h.01M454.8 241.3h.01M455.1 246.7h.01M455.4 247.8h.01M455.8 250.7h.01M456.1 254.9h.01M456.4 258.1h.01M456.7 258.3h.01M457.1 265.1h.01M457.4 268.1h.01M457.7 270.9h.01M458 272h.01M458.4 274.4h.01M458.7 279.7h.01M459 284.2h.01M459.3 287.1h.01M459.7 288.6h.01M460 293.4h.01M460.3 293.4h.01M460.6 295.6h.01M461 298.9h.01M461.3 300.2h.01M461.6 301.8h.01M461.9 302.6h.01M462.3 306.5h.01M462.6 305.8h.01M462.9 308.5h.01M463.2 310.1h.01M463.6 310.4h.01M463.9 311.7h.01M464.2 313.3h.01M464.6 314.7h.01M464.9 314.9h.01M465.2 313.5h.01M465.5 313.8h.01M465.9 315.5h.01M466.2 315.6h.01M466.5 317.6h.01M466.8 317.7h.01M467.2 317.9h.01M467.5 319.5h.01M467.8 319.8h.01M468.1 319.2h.01M468.5 319.9h.01M468.8 320.8h.01M469.1 319.9h.01M469.4 320.7h.01M469.8 319.9h.01M470.1 321h.01M470.4 321.4h.01M470.7 321.3h.01M471.1 321.8h.01M471.4 322.4h.01M471.7 322.3h.01M472 321.6h.01M472.4 321.8h.01M472.7 321.5h.01M473 324h.01M473.3 323.1h.01M473.7 323.3h.01M474 322.9h.01M474.3 323.6h.01M474.6 323.8h.01M475 322.8h.01M475.3 323.5h.01M475.6 324.7h.01M475.9 322.8h.01M476.3 323.2h.01M476.6 324.5h.01M476.9 323.5h.01M477.2 324.9h.01M477.6 323.5h.01M477.9 324.6h.01M478.2 325.2h.01M478.6 324.9h.01M478.9 325.3h.01M479.2 324.5h.01M479.5 324.6h.01M479.9 324.7h.01M480.2 325.2h.01M480.5 327.7h.01M480.8 324.7h.01M481.2 326.3h.01M481.5 324.5h.01M481.8 323.8h.01M482.1 324.4h.01M482.5 324.9h.01M482.8 324.7h.01M483.1 324.6h.01M483.4 324.9h.01M483.8 324.9h.01M484.1 325.1h.01M484.4 323.4h.01M484.7 324.3h.01M485.1 323.5h.01M485.4 324.4h.01M485.7 324.1h.01M486 324.2h.01M486.4 323.6h.01M486.7 323.3h.01M487 323.7h.01M487.3 324.4h.01M487.7 324.4h.01M488 322.4h.01M488.3 324h.01M488.6 323.9h.01M489 322.5h.01M489.3 322.8h.01M489.6 323.2h.01M489.9 323.9h.01M490.3 321.7h.01M490.6 323.3h.01M490.9 323.2h.01M491.3 323.8h.01M491.6 324.8h.01M491.9 324.7h.01M492.2 323.4h.01M492.6 323.4h.01M492.9 323.9h.01M493.2 324.7h.01M493.5 325h.01M493.9 324.1h.01M494.2 325.1h.01M494.5 323.2h.01M494.8 323h.01M495.2 321.7h.01M495.5 323.4h.01M495.8 324.6h.01M496.1 324.9h.01M496.5 327h.01M496.8 324.7h.01M497.1 324.5h.01M497.4 323.6h.01M497.8 323.9h.01M498.1 324h.01M498.4 324.4h.01M498.7 324.1h.01M499.1 323.5h.01M499.4 325.6h.01M499.7 325.1h.01M500 325.9h.01M500.4 323.6h.01M500.7 323.9h.01M501 324.4h.01M501.3 326.1h.01M501.7 325.1h.01M502 325.5h.01M502.3 325.3h.01M502.6 325.6h.01M503 325.1h.01M503.3 326h.01M503.6 325.1h.01M504 325.6h.01M504.3 326.2h.01M504.6 326.1h.01M504.9 326.5h.01M505.3 325.6h.01M505.6 326.5h.01M505.9 326.2h.01M506.2 326.8h.01M506.6 327.8h.01M506.9 326h.01M507.2 327.6h.01M507.5 326.3h.01M507.9 326.6h.01M508.2 328.3h.01M508.5 327.8h.01M508.8 327.6h.01M509.2 327.9h.01M509.5 328.3h.01M509.8 326.8h.01M510.1 327.7h.01M510.5 327.3h.01M510.8 328h.01M511.1 327.5h.01M511.4 328.4h.01M511.8 327.9h.01M512.1 327.5h.01M512.4 328h.01M512.7 328.4h.01M513.1 329h.01M513.4 328.1h.01M513.7 328h.01M514 328.6h.01M514.4 329h.01M514.7 328.1h.01M515 326.7h.01M515.3 328.9h.01M515.7 328.5h.01M516 328.5h.01M516.3 330.9h.01M516.7 328.9h.01M517 329.6h.01M517.3 328.1h.01M517.6 329.4h.01M518 329.9h.01M518.3 329.5h.01M518.6 329.3h.01M518.9 329.9h.01M519.3 329.6h.01M519.6 330.7h.01M519.9 329.9h.01M520.2 329.2h.01M520.6 328.4h.01M520.9 329.5h.01M521.2 329.9h.01M521.5 329.2h.01M521.9 329.4h.01M522.2 329h.01M522.5 329.6h.01M522.8 330.5h.01M523.2 330.3h.01M523.5 330.5h.01M523.8 330.5h.01M524.1 330.6h.01M524.5 331.4h.01M524.8 332.5h.01M525.1 331.5h.01M525.4 332.6h.01M525.8 331h.01M526.1 331.2h.01M526.4 332.5h.01M526.7 330.8h.01M527.1 330.7h.01M527.4 331.3h.01M527.7 330.2h.01M528 330.1h.01M528.4 332.5h.01M528.7 330.9h.01M529 331.4h.01M529.4 331.4h.01M529.7 331.1h.01M530 332.4h.01M530.3 332.4h.01M530.7 332.6h.01M531 332.6h.01M531.3 332.2h.01M531.6 333.2h.01M532 333h.01M532.3 331.8h.01M532.6 332.4h.01M532.9 332.1h.01M533.3 333.8h.01M533.6 333.1h.01M533.9 332.9h.01M534.2 332.6h.01M534.6 333.1h.01M534.9 332h.01M535.2 332.8h.01M535.5 332.8h.01M535.9 332.9h.01M536.2 332.4h.01M536.5 333.4h.01M536.8 332.2h.01M537.2 332.8h.01M537.5 333.1h.01M537.8 333.2h.01M538.1 332.9h.01M538.5 332.6h.01M538.8 332.7h.01M539.1 333.2h.01M539.4 332.9h.01M539.8 333.5h.01M540.1 332.8h.01M540.4 333.8h.01M540.7 335.3h.01M541.1 332.9h.01M541.4 333.8h.01M541.7 334.9h.01M542 334.2h.01M542.4 334.8h.01M237.7 264h.01M196.2 313h.01M203.6 262h.01M312.5 358h.01M344.6 334h.01M444.2 91.8h.01M429.6 105.8h.01M429.6 111.5h.01M457.7 117.6h.01M456.4 199.2h.01M457 208h.01M457 230.7h.01M456.4 244h.01M389.4 293.6h.01M520.4 303h.01M520.4 311h.01M444.6 96h.01" fill="none" stroke="#000" stroke-width="1.6" stroke-linecap="round"/>
<path d="M135.3 591.3h.01M135.7 704.8h.01M136 704.4h.01M136.3 648.7h.01M136.6 628.2h.01M137 666.2h.01M137.3 695.4h.01M137.6 610.9h.01M137.9 571.5h.01M138.3 615.4h.01M138.6 644.9h.01M138.9 685h.01M139.3 604.4h.01M139.6 684.3h.01M139.9 623.5h.01M140.2 690.4h.01M140.6 638.3h.01M140.9 631.9h.01M141.2 626.9h.01M141.5 630.1h.01M141.9 574.8h.01M142.2 617.1h.01M142.5 610.9h.01M142.8 636.9h.01M143.2 620.1h.01M143.5 660.3h.01M143.8 582h.01M144.1 587.1h.01M144.5 601.1h.01M144.8 597.5h.01M145.1 627.9h.01M145.4 603.5h.01M145.8 641.9h.01M146.1 581.5h.01M146.4 586h.01M146.7 618.3h.01M147.1 516.5h.01M147.4 607.9h.01M147.7 600h.01M148 636.6h.01M148.4 593.2h.01M148.7 674h.01M149 550.7h.01M149.3 687.4h.01M149.7 533.6h.01M150 583.8h.01M150.3 549.4h.01M150.6 565.7h.01M151 584.2h.01M151.3 556h.01M151.6 580.4h.01M152 559.4h.01M152.3 521.3h.01M152.6 567.1h.01M152.9 619.3h.01M153.3 698.2h.01M153.6 565h.01M153.9 603.4h.01M154.2 613.4h.01M154.6 619h.01M154.9 566.9h.01M155.2 548.2h.01M155.5 597.4h.01M155.9 583.1h.01M156.2 633.8h.01M156.5 571.4h.01M156.8 596.7h.01M157.2 590.5h.01M157.5 514.3h.01M157.8 593.3h.01M158.1 601.2h.01M158.5 591.8h.01M158.8 564.4h.01M159.1 596.6h.01M159.4 580.2h.01M159.8 594h.01M160.1 596.8h.01M160.4 572.8h.01M160.7 550.8h.01M161.1 617.3h.01M161.4 565.4h.01M161.7 554.3h.01M162 621.2h.01M162.4 575.4h.01M162.7 585.4h.01M163 570.4h.01M163.3 580.4h.01M163.7 567h.01M164 517.7h.01M164.3 557.8h.01M164.7 555.3h.01M165 572.3h.01M165.3 512.5h.01M165.6 541.9h.01M166 543h.01M166.3 561.3h.01M166.6 561.5h.01M166.9 515.4h.01M167.3 514.6h.01M167.6 530.9h.01M167.9 585.2h.01M168.2 546.2h.01M168.6 559.1h.01M168.9 543.1h.01M169.2 515h.01M169.5 559h.01M169.9 554h.01M170.2 568.8h.01M170.5 539.8h.01M170.8 549.2h.01M171.2 536.9h.01M171.5 523.1h.01M171.8 514.1h.01M172.1 547.3h.01M172.5 540.3h.01M172.8 523h.01M173.1 526.3h.01M173.4 506.2h.01M173.8 433.4h.01M174.1 455.7h.01M174.4 557.8h.01M174.7 523.9h.01M175.1 521.8h.01M175.4 448.6h.01M175.7 530.1h.01M176 515.6h.01M176.4 493.9h.01M176.7 501.5h.01M177 513.9h.01M177.3 529.8h.01M177.7 496h.01M178 489h.01M178.3 517h.01M178.7 508.9h.01M179 545.4h.01M179.3 535.3h.01M179.6 496.8h.01M180 536.1h.01M180.3 509.1h.01M180.6 490.2h.01M180.9 509.7h.01M181.3 489h.01M181.6 487.6h.01M181.9 485.4h.01M182.2 539.9h.01M182.6 552.1h.01M182.9 498.5h.01M183.2 558.3h.01M183.5 509h.01M183.9 472h.01M184.2 511.3h.01M184.5 473.7h.01M184.8 504.5h.01M185.2 558h.01M185.5 503.8h.01M185.8 529.9h.01M186.1 549.2h.01M186.5 518.2h.01M186.8 568.2h.01M187.1 547.3h.01M187.4 522h.01M187.8 564.3h.01M188.1 505.2h.01M188.4 531.8h.01M188.7 543.5h.01M189.1 495.3h.01M189.4 487.5h.01M189.7 567.2h.01M190 546.1h.01M190.4 522.4h.01M190.7 557.5h.01M191 507.7h.01M191.4 443h.01M191.7 511.6h.01M192 489.3h.01M192.3 527.1h.01M192.7 511.9h.01M193 511.7h.01M193.3 522.2h.01M193.6 500.2h.01M194 505.1h.01M194.3 504h.01M194.6 525.2h.01M194.9 461.1h.01M195.3 494.8h.01M195.6 494.1h.01M195.9 477.5h.01M196.2 517.8h.01M196.6 515.6h.01M196.9 495.1h.01M197.2 451.4h.01M197.5 481.2h.01M197.9 531.8h.01M198.2 490.8h.01M198.5 522.7h.01M198.8 481.9h.01M199.2 499.1h.01M199.5 482.3h.01M199.8 551.9h.01M200.1 483.5h.01M200.5 499.2h.01M200.8 509.8h.01M201.1 521.7h.01M201.4 507.5h.01M201.8 479.5h.01M202.1 509.2h.01M202.4 493.5h.01M202.7 501.1h.01M203.1 543.1h.01M203.4 489.7h.01M203.7 476.2h.01M204.1 508.7h.01M204.4 476.1h.01M204.7 510h.01M205 481.3h.01M205.4 496.4h.01M205.7 468.8h.01M206 493h.01M206.3 468.9h.01M206.7 504.4h.01M207 512.1h.01M207.3 463.1h.01M207.6 505.2h.01M208 512.6h.01M208.3 464h.01M208.6 491.4h.01M208.9 469.4h.01M209.3 432.7h.01M209.6 522.9h.01M209.9 495.2h.01M210.2 538.1h.01M210.6 483.2h.01M210.9 496.9h.01M211.2 490.6h.01M211.5 486.7h.01M211.9 484.4h.01M212.2 508.1h.01M212.5 484.5h.01M212.8 527h.01M213.2 513.7h.01M213.5 538h.01M213.8 493h.01M214.1 490.9h.01M214.5 520.4h.01M214.8 496.4h.01M215.1 484.5h.01M215.4 510.2h.01M215.8 507.2h.01M216.1 468.8h.01M216.4 476.6h.01M216.8 531.5h.01M217.1 502.5h.01M217.4 512.9h.01M217.7 471.1h.01M218.1 513.1h.01M218.4 445.9h.01M218.7 512.3h.01M219 473.6h.01M219.4 533.2h.01M219.7 483.4h.01M220 527.9h.01M220.3 473.4h.01M220.7 522.8h.01M221 527.7h.01M221.3 525.5h.01M221.6 534.4h.01M222 523.9h.01M222.3 520.8h.01M222.6 505.9h.01M222.9 513.2h.01M223.3 510.6h.01M223.6 511.1h.01M223.9 504.6h.01M224.2 534.9h.01M224.6 531.7h.01M224.9 498.2h.01M225.2 486.9h.01M225.5 505.2h.01M225.9 484.8h.01M226.2 506.6h.01M226.5 512.8h.01M226.8 536.2h.01M227.2 505.3h.01M227.5 504.8h.01M227.8 516.2h.01M228.1 511.1h.01M228.5 461.2h.01M228.8 518.3h.01M229.1 513.1h.01M229.4 533.6h.01M229.8 504.4h.01M230.1 516.3h.01M230.4 502.3h.01M230.8 515.6h.01M231.1 505.8h.01M231.4 575.9h.01M231.7 464.5h.01M232.1 539.8h.01M232.4 503.8h.01M232.7 527h.01M233 515h.01M233.4 515.1h.01M233.7 476.2h.01M234 523.4h.01M234.3 567.1h.01M234.7 550.9h.01M235 477h.01M235.3 509.2h.01M235.6 556.1h.01M236 500.5h.01M236.3 531.4h.01M236.6 509.3h.01M236.9 537.8h.01M237.3 528.8h.01M237.6 534.3h.01M237.9 545.6h.01M238.2 503.9h.01M238.6 518.6h.01M238.9 522.2h.01M239.2 530.1h.01M239.5 518.9h.01M239.9 563.2h.01M240.2 505.9h.01M240.5 540h.01M240.8 549.7h.01M241.2 564.5h.01M241.5 530.3h.01M241.8 542.8h.01M242.1 520.9h.01M242.5 531.9h.01M242.8 520.8h.01M243.1 547.7h.01M243.5 550.8h.01M243.8 518.8h.01M244.1 548h.01M244.4 536.9h.01M244.8 524.2h.01M245.1 534.2h.01M245.4 529.2h.01M245.7 574h.01M246.1 517.3h.01M246.4 558h.01M246.7 532.2h.01M247 523.7h.01M247.4 576.9h.01M247.7 540.7h.01M248 522.3h.01M248.3 557.1h.01M248.7 563.5h.01M249 515.7h.01M249.3 539.3h.01M249.6 544.2h.01M250 526.3h.01M250.3 559.5h.01M250.6 527.2h.01M250.9 534.8h.01M251.3 551.7h.01M251.6 541.2h.01M251.9 559.8h.01M252.2 542.2h.01M252.6 543.4h.01M252.9 551.6h.01M253.2 535h.01M253.5 563.4h.01M253.9 550h.01M254.2 555.2h.01M254.5 541.7h.01M254.8 557.4h.01M255.2 524.3h.01M255.5 550h.01M255.8 541.2h.01M256.2 532.8h.01M256.5 559.9h.01M256.8 549.8h.01M257.1 532.7h.01M257.5 556.8h.01M257.8 534.6h.01M258.1 539.9h.01M258.4 532.2h.01M258.8 556.2h.01M259.1 540.8h.01M259.4 560.2h.01M259.7 514.4h.01M260.1 538.9h.01M260.4 521.4h.01M260.7 562.2h.01M261 541.8h.01M261.4 539.1h.01M261.7 558.9h.01M262 594.3h.01M262.3 517.1h.01M262.7 539.3h.01M263 576.3h.01M263.3 574.7h.01M263.6 547.1h.01M264 565.6h.01M264.3 575.5h.01M264.6 567.8h.01M264.9 546.3h.01M265.3 539h.01M265.6 549.3h.01M265.9 521h.01M266.2 540.4h.01M266.6 571.3h.01M266.9 544.2h.01M267.2 572.2h.01M267.5 564h.01M267.9 557.5h.01M268.2 554.5h.01M268.5 547.1h.01M268.9 559.6h.01M269.2 581.4h.01M269.5 555.1h.01M269.8 567.8h.01M270.2 569.5h.01M270.5 556.5h.01M270.8 555.3h.01M271.1 547.1h.01M271.5 569.9h.01M271.8 578.8h.01M272.1 555.4h.01M272.4 553.5h.01M272.8 563.7h.01M273.1 568.3h.01M273.4 572.4h.01M273.7 552.9h.01M274.1 551.2h.01M274.4 559.6h.01M274.7 574.4h.01M275 540h.01M275.4 575.8h.01M275.7 563.7h.01M276 556.2h.01M276.3 544.6h.01M276.7 543.4h.01M277 595.4h.01M277.3 568.3h.01M277.6 586h.01M278 545.6h.01M278.3 556.3h.01M278.6 534.1h.01M278.9 574.5h.01M279.3 567.9h.01M279.6 551.3h.01M279.9 578.3h.01M280.2 578.3h.01M280.6 608.5h.01M280.9 585.5h.01M281.2 566h.01M281.5 574.9h.01M281.9 569h.01M282.2 582.6h.01M282.5 575.8h.01M282.9 550.6h.01M283.2 577h.01M283.5 575.7h.01M283.8 574.5h.01M284.2 540.7h.01M284.5 578.7h.01M284.8 572h.01M285.1 533.7h.01M285.5 559.1h.01M285.8 595.5h.01M286.1 558.8h.01M286.4 592.9h.01M286.8 553.9h.01M287.1 584.5h.01M287.4 601.2h.01M287.7 593.1h.01M288.1 582.6h.01M288.4 554.4h.01M288.7 576.6h.01M289 541.8h.01M289.4 600.8h.01M289.7 538.4h.01M290 581.1h.01M290.3 572.5h.01M290.7 572.7h.01M291 572.8h.01M291.3 566.5h.01M291.6 572.8h.01M292 576.9h.01M292.3 584.4h.01M292.6 594h.01M292.9 553.8h.01M293.3 580.3h.01M293.6 576.9h.01M293.9 562.8h.01M294.2 569.3h.01M294.6 564.4h.01M294.9 614h.01M295.2 557h.01M295.6 594.5h.01M295.9 553.1h.01M296.2 592.3h.01M296.5 573.9h.01M296.9 588.3h.01M297.2 594.4h.01M297.5 586.6h.01M297.8 579.9h.01M298.2 577.2h.01M298.5 593.5h.01M298.8 572.2h.01M299.1 582.3h.01M299.5 567.5h.01M299.8 578.8h.01M300.1 585.7h.01M300.4 578.7h.01M300.8 575.8h.01M301.1 591.7h.01M301.4 572.1h.01M301.7 574.2h.01M302.1 573.6h.01M302.4 556.9h.01M302.7 570.9h.01M303 583.5h.01M303.4 567.2h.01M303.7 605.7h.01M304 557.1h.01M304.3 575.3h.01M304.7 588.4h.01M305 612.8h.01M305.3 610.1h.01M305.6 554.2h.01M306 554.2h.01M306.3 583.1h.01M306.6 577.8h.01M306.9 572.5h.01M307.3 615.2h.01M307.6 592.6h.01M307.9 564.2h.01M308.3 589.5h.01M308.6 600.3h.01M308.9 582.1h.01M309.2 597.8h.01M309.6 572.4h.01M309.9 580.1h.01M310.2 600.9h.01M310.5 565.3h.01M310.9 558.2h.01M311.2 605.4h.01M311.5 588.3h.01M311.8 578.6h.01M312.2 595.2h.01M312.5 578.2h.01M312.8 568h.01M313.1 608.5h.01M313.5 594h.01M313.8 577.4h.01M314.1 587.2h.01M314.4 573.9h.01M314.8 600.2h.01M315.1 590h.01M315.4 601.8h.01M315.7 562h.01M316.1 585.3h.01M316.4 597.7h.01M316.7 564.3h.01M317 591.4h.01M317.4 598.3h.01M317.7 555.8h.01M318 612.3h.01M318.3 579.7h.01M318.7 571.6h.01M319 580.1h.01M319.3 574.4h.01M319.6 616h.01M320 601.2h.01M320.3 590.8h.01M320.6 594.9h.01M321 630.8h.01M321.3 597.5h.01M321.6 596.8h.01M321.9 576.2h.01M322.3 609h.01M322.6 568.4h.01M322.9 581.7h.01M323.2 630.8h.01M323.6 606.1h.01M323.9 617.1h.01M324.2 596.3h.01M324.5 616.6h.01M324.9 606.3h.01M325.2 601.8h.01M325.5 606.4h.01M325.8 586.9h.01M326.2 592.2h.01M326.5 616.3h.01M326.8 580.4h.01M327.1 607.7h.01M327.5 602.2h.01M327.8 603.7h.01M328.1 580.5h.01M328.4 612.1h.01M328.8 603.5h.01M329.1 591.2h.01M329.4 591.6h.01M329.7 595.8h.01M330.1 600.9h.01M330.4 579h.01M330.7 596h.01M331 599.6h.01M331.4 597.9h.01M331.7 596.8h.01M332 585.7h.01M332.3 586.4h.01M332.7 604.4h.01M333 591.9h.01M333.3 633.6h.01M333.6 607.3h.01M334 605.4h.01M334.3 634.4h.01M334.6 560.2h.01M335 573.3h.01M335.3 607h.01M335.6 596.5h.01M335.9 591.7h.01M336.3 589.2h.01M336.6 593h.01M336.9 618.9h.01M337.2 638.9h.01M337.6 614.4h.01M337.9 582.7h.01M338.2 586.8h.01M338.5 608h.01M338.9 585.7h.01M339.2 575.9h.01M339.5 617.5h.01M339.8 578.7h.01M340.2 599.6h.01M340.5 590.3h.01M340.8 603.8h.01M341.1 570.2h.01M341.5 609.6h.01M341.8 586h.01M342.1 631.3h.01M342.4 602h.01M342.8 599.4h.01M343.1 576.1h.01M343.4 592.9h.01M343.7 602.5h.01M344.1 603h.01M344.4 607.2h.01M344.7 615.3h.01M345 593h.01M345.4 591.2h.01M345.7 606.4h.01M346 617.5h.01M346.3 624.3h.01M346.7 610.6h.01M347 599.9h.01M347.3 582h.01M347.7 618.1h.01M348 601.7h.01M348.3 624.2h.01M348.6 624.3h.01M349 599.2h.01M349.3 599.7h.01M349.6 631h.01M349.9 623.9h.01M350.3 595.9h.01M350.6 604h.01M350.9 580.2h.01M351.2 619.4h.01M351.6 617.5h.01M351.9 636.9h.01M352.2 566.6h.01M352.5 616.2h.01M352.9 586.9h.01M353.2 599.6h.01M353.5 577.2h.01M353.8 634.1h.01M354.2 615.3h.01M354.5 589.8h.01M354.8 610.8h.01M355.1 643.7h.01M355.5 600.6h.01M355.8 643.2h.01M356.1 591.7h.01M356.4 571h.01M356.8 589.1h.01M357.1 606.1h.01M357.4 610.9h.01M357.7 614.3h.01M358.1 598.7h.01M358.4 569.1h.01M358.7 645.1h.01M359 608.2h.01M359.4 567.4h.01M359.7 602.6h.01M360 596.8h.01M360.4 607.2h.01M360.7 643.2h.01M361 615h.01M361.3 646.2h.01M361.7 620.6h.01M362 592.3h.01M362.3 635h.01M362.6 602.7h.01M363 612.1h.01M363.3 614.2h.01M363.6 600.6h.01M363.9 605.8h.01M364.3 577.7h.01M364.6 590.1h.01M364.9 593h.01M365.2 614.3h.01M365.6 620.2h.01M365.9 611.7h.01M366.2 647.3h.01M366.5 590.7h.01M366.9 589h.01M367.2 617.5h.01M367.5 616.8h.01M367.8 613.4h.01M368.2 615.7h.01M368.5 611.3h.01M368.8 650.1h.01M369.1 627.4h.01M369.5 625.4h.01M369.8 635.2h.01M370.1 608.3h.01M370.4 604.5h.01M370.8 595.9h.01M371.1 618.5h.01M371.4 644.5h.01M371.7 587.8h.01M372.1 617.9h.01M372.4 618.1h.01M372.7 599.2h.01M373.1 645.5h.01M373.4 644.8h.01M373.7 608.5h.01M374 632.1h.01M374.4 644.4h.01M374.7 598.6h.01M375 624.5h.01M375.3 637.2h.01M375.7 604.1h.01M376 640.2h.01M376.3 639.4h.01M376.6 637.6h.01M377 644.2h.01M377.3 626.5h.01M377.6 615.5h.01M377.9 629.1h.01M378.3 651.7h.01M378.6 640.5h.01M378.9 621h.01M379.2 595h.01M379.6 621.8h.01M379.9 637.7h.01M380.2 619.3h.01M380.5 644.6h.01M380.9 633h.01M381.2 619.1h.01M381.5 593.8h.01M381.8 614.6h.01M382.2 601.1h.01M382.5 610.3h.01M382.8 659.1h.01M383.1 645.1h.01M383.5 587.2h.01M383.8 603.3h.01M384.1 614.7h.01M384.4 639.9h.01M384.8 619.5h.01M385.1 650.3h.01M385.4 614.6h.01M385.7 587.9h.01M386.1 629.9h.01M386.4 654.7h.01M386.7 627.4h.01M387.1 627h.01M387.4 626.6h.01M387.7 611.7h.01M388 633.4h.01M388.4 629.5h.01M388.7 619.1h.01M389 594.3h.01M389.3 621.9h.01M389.7 609.3h.01M390 617.9h.01M390.3 649.9h.01M390.6 631.4h.01M391 628.8h.01M391.3 611h.01M391.6 627h.01M391.9 631.5h.01M392.3 603h.01M392.6 626.2h.01M392.9 653.1h.01M393.2 605.1h.01M393.6 628.2h.01M393.9 607.4h.01M394.2 610.3h.01M394.5 647.3h.01M394.9 621.7h.01M395.2 627.2h.01M395.5 636.4h.01M395.8 616.9h.01M396.2 605.9h.01M396.5 608.7h.01M396.8 619.5h.01M397.1 635h.01M397.5 644.6h.01M397.8 626.2h.01M398.1 625.4h.01M398.4 601.6h.01M398.8 683.2h.01M399.1 630.1h.01M399.4 648.4h.01M399.8 638.4h.01M400.1 602h.01M400.4 653.6h.01M400.7 592.4h.01M401.1 650.3h.01M401.4 628.5h.01M401.7 669.3h.01M402 631.2h.01M402.4 542.8h.01M402.7 614.2h.01M403 606.7h.01M403.3 614.3h.01M403.7 632.7h.01M404 626.4h.01M404.3 639.8h.01M404.6 643.5h.01M405 614.5h.01M405.3 602.5h.01M405.6 616.1h.01M405.9 642.2h.01M406.3 618.3h.01M406.6 628h.01M406.9 652.9h.01M407.2 636.7h.01M407.6 614.7h.01M407.9 629.3h.01M408.2 642.4h.01M408.5 635h.01M408.9 625.8h.01M409.2 646.4h.01M409.5 599.3h.01M409.8 618.3h.01M410.2 615.2h.01M410.5 613.4h.01M410.8 609.2h.01M411.1 647.1h.01M411.5 599.4h.01M411.8 636.7h.01M412.1 633h.01M412.5 611.9h.01M412.8 663.3h.01M413.1 623.9h.01M413.4 595.7h.01M413.8 642.1h.01M414.1 659.2h.01M414.4 578h.01M414.7 626.5h.01M415.1 638.4h.01M415.4 635.6h.01M415.7 695.2h.01M416 602.8h.01M416.4 580.8h.01M416.7 655.5h.01M417 622.5h.01M417.3 593h.01M417.7 619h.01M418 586.3h.01M418.3 650.5h.01M418.6 633.2h.01M419 564.8h.01M419.3 659.4h.01M419.6 647.1h.01M419.9 562.9h.01M420.3 645.9h.01M420.6 604.5h.01M420.9 668.3h.01M421.2 647.6h.01M421.6 614.5h.01M421.9 717.4h.01M422.2 633.1h.01M422.5 592.9h.01M422.9 554.5h.01M423.2 705.1h.01M423.5 635.6h.01M423.8 636.2h.01M424.2 646.1h.01M424.5 578.9h.01M424.8 590.4h.01M425.2 575.1h.01M425.5 636.3h.01M425.8 552.1h.01M426.1 575.8h.01M426.5 627.8h.01M426.8 630.3h.01M427.1 675.3h.01M427.4 607.2h.01M427.8 553.6h.01M428.1 623.3h.01M428.4 572.4h.01M428.7 641.6h.01M429.1 608.4h.01M429.4 594.7h.01M429.7 618.7h.01M430 583.9h.01M430.4 594.7h.01M430.7 634.9h.01M431 624.7h.01M431.3 594.5h.01M431.7 620.6h.01M432 553.6h.01M432.3 634.2h.01M432.6 629.4h.01M433 570.7h.01M433.3 664.6h.01M433.6 637.1h.01M433.9 657.9h.01M434.3 645.2h.01M434.6 647h.01M434.9 562.1h.01M435.2 608.3h.01M435.6 633.4h.01M435.9 616.2h.01M436.2 637.2h.01M436.5 635.9h.01M436.9 622.9h.01M437.2 601h.01M437.5 645h.01M437.8 671.8h.01M438.2 607h.01M438.5 729.8h.01M438.8 568h.01M439.2 636.9h.01M439.5 631.7h.01M439.8 590h.01M440.1 660.5h.01M440.5 644.6h.01M440.8 661.3h.01M441.1 666.2h.01M441.4 720.7h.01M441.8 685.6h.01M442.1 625.7h.01M442.4 657.5h.01M442.7 628.6h.01M443.1 641.4h.01M443.4 635.7h.01M443.7 674.8h.01M444 656.8h.01M444.4 611.3h.01M444.7 672.9h.01M445 625.8h.01M445.3 683.7h.01M445.7 580.2h.01M446 660.4h.01M446.3 641.3h.01M446.6 680.8h.01M447 629.6h.01M447.3 654.1h.01M447.6 689.1h.01M447.9 698.2h.01M448.3 602.7h.01M448.6 678.4h.01M448.9 669h.01M449.2 696.6h.01M449.6 668h.01M449.9 630.7h.01M450.2 670.2h.01M450.5 691.7h.01M450.9 632.6h.01M451.2 669.3h.01M451.5 670.8h.01M451.9 673.7h.01M452.2 641.4h.01M452.5 635.9h.01M452.8 670.3h.01M453.2 647.4h.01M453.5 621.4h.01M453.8 680.5h.01M454.1 672h.01M454.5 720.9h.01M454.8 672.2h.01M455.1 643.7h.01M455.4 693.2h.01M455.8 644.3h.01M456.1 666.4h.01M456.4 681h.01M456.7 632.3h.01M457.1 684.7h.01M457.4 728.2h.01M457.7 659h.01M458 644.7h.01M458.4 676.7h.01M458.7 659.4h.01M459 668.4h.01M459.3 671.4h.01M459.7 687.8h.01M460 628.5h.01M460.3 627.7h.01M460.6 616h.01M461 667h.01M461.3 666.3h.01M461.6 667.5h.01M461.9 643h.01M462.3 662.1h.01M462.6 638.4h.01M462.9 654.9h.01M463.2 660.2h.01M463.6 686.1h.01M463.9 647.9h.01M464.2 668.3h.01M464.6 659.7h.01M464.9 669.8h.01M465.2 653.2h.01M465.5 652.4h.01M465.9 648.5h.01M466.2 676.7h.01M466.5 630.7h.01M466.8 639h.01M467.2 675.3h.01M467.5 627h.01M467.8 658.4h.01M468.1 648.8h.01M468.5 668.5h.01M468.8 685.5h.01M469.1 656.7h.01M469.4 662.4h.01M469.8 645.2h.01M470.1 677.2h.01M470.4 652.6h.01M470.7 674.7h.01M471.1 673.1h.01M471.4 645.6h.01M471.7 692.6h.01M472 692.7h.01M472.4 668.2h.01M472.7 645.3h.01M473 658.1h.01M473.3 664.8h.01M473.7 641h.01M474 650.5h.01M474.3 650.1h.01M474.6 617.7h.01M475 662.6h.01M475.3 693.3h.01M475.6 680.8h.01M475.9 644.2h.01M476.3 669.6h.01M476.6 655.3h.01M476.9 656.8h.01M477.2 654.6h.01M477.6 684.2h.01M477.9 654.3h.01M478.2 627.7h.01M478.6 654.4h.01M478.9 656.5h.01M479.2 657.1h.01M479.5 663.1h.01M479.9 685.9h.01M480.2 656.6h.01M480.5 652.3h.01M480.8 664.6h.01M481.2 659.2h.01M481.5 660.2h.01M481.8 646h.01M482.1 654.8h.01M482.5 669.6h.01M482.8 677.1h.01M483.1 662.8h.01M483.4 653.6h.01M483.8 645.2h.01M484.1 652.4h.01M484.4 660.1h.01M484.7 649.2h.01M485.1 667.5h.01M485.4 650.9h.01M485.7 646.4h.01M486 642.9h.01M486.4 664.4h.01M486.7 647.1h.01M487 645.3h.01M487.3 662.2h.01M487.7 659.6h.01M488 663.6h.01M488.3 657.7h.01M488.6 643.9h.01M489 628.6h.01M489.3 626h.01M489.6 631.1h.01M489.9 634.9h.01M490.3 645.4h.01M490.6 668h.01M490.9 622.2h.01M491.3 667.4h.01M491.6 666.8h.01M491.9 668.1h.01M492.2 647h.01M492.6 659.4h.01M492.9 693.6h.01M493.2 653.7h.01M493.5 681.9h.01M493.9 646h.01M494.2 663.2h.01M494.5 676.2h.01M494.8 648.6h.01M495.2 678.8h.01M495.5 662.3h.01M495.8 686.9h.01M496.1 654h.01M496.5 659h.01M496.8 641.8h.01M497.1 661.4h.01M497.4 690.7h.01M497.8 666.5h.01M498.1 671.6h.01M498.4 686.9h.01M498.7 673.7h.01M499.1 657.1h.01M499.4 648h.01M499.7 668.6h.01M500 667.1h.01M500.4 663.7h.01M500.7 639.6h.01M501 688.7h.01M501.3 628.5h.01M501.7 647.6h.01M502 706.6h.01M502.3 643.1h.01M502.6 676.8h.01M503 640.9h.01M503.3 657.2h.01M503.6 681.1h.01M504 664.7h.01M504.3 637.6h.01M504.6 671.1h.01M504.9 657.7h.01M505.3 648.9h.01M505.6 649.5h.01M505.9 645.7h.01M506.2 674.9h.01M506.6 642.4h.01M506.9 643.7h.01M507.2 658.4h.01M507.5 609.3h.01M507.9 658.4h.01M508.2 660.5h.01M508.5 659.7h.01M508.8 646.5h.01M509.2 675.7h.01M509.5 672.5h.01M509.8 621.6h.01M510.1 670.7h.01M510.5 654.1h.01M510.8 665.5h.01M511.1 648.3h.01M511.4 676.1h.01M511.8 677.1h.01M512.1 668.6h.01M512.4 669.8h.01M512.7 685.2h.01M513.1 671.8h.01M513.4 638.8h.01M513.7 658.5h.01M514 677.3h.01M514.4 679.3h.01M514.7 661.6h.01M515 646.5h.01M515.3 623.7h.01M515.7 658h.01M516 643.8h.01M516.3 657.1h.01M516.7 644h.01M517 667.6h.01M517.3 677.2h.01M517.6 636.4h.01M518 659h.01M518.3 665.6h.01M518.6 647.8h.01M518.9 664.4h.01M519.3 645.6h.01M519.6 641.1h.01M519.9 650.8h.01M520.2 665.6h.01M520.6 668.6h.01M520.9 659.6h.01M521.2 657.9h.01M521.5 659.4h.01M521.9 662.7h.01M522.2 675.4h.01M522.5 672.1h.01M522.8 675.8h.01M523.2 634.4h.01M523.5 670.6h.01M523.8 636.3h.01M524.1 673.7h.01M524.5 676.5h.01M524.8 700.5h.01M525.1 643.7h.01M525.4 650.2h.01M525.8 664.6h.01M526.1 632.4h.01M526.4 652.1h.01M526.7 654.9h.01M527.1 644.8h.01M527.4 664.9h.01M527.7 685.7h.01M528 659h.01M528.4 658.6h.01M528.7 663h.01M529 646.8h.01M529.4 672.7h.01M529.7 667.8h.01M530 672.9h.01M530.3 664.5h.01M530.7 671.3h.01M531 666.8h.01M531.3 681.9h.01M531.6 657.9h.01M532 672.7h.01M532.3 658.4h.01M532.6 662.6h.01M532.9 654.7h.01M533.3 675.3h.01M533.6 659.3h.01M533.9 617h.01M534.2 663.2h.01M534.6 678.4h.01M534.9 657.2h.01M535.2 684.4h.01M535.5 654.8h.01M535.9 658h.01M536.2 669.9h.01M536.5 690.5h.01M536.8 659.5h.01M537.2 673.4h.01M537.5 671h.01M537.8 678.9h.01M538.1 656.2h.01M538.5 684.8h.01M538.8 660.9h.01M539.1 672.3h.01M539.4 702.9h.01M539.8 655.2h.01M540.1 690.8h.01M540.4 660.3h.01M540.7 709.7h.01M541.1 691.4h.01M541.4 615.2h.01M541.7 722.1h.01M542 659.9h.01M542.4 661.4h.01" fill="none" stroke="#000" stroke-width="3.6" stroke-linecap="round"/>
</svg>
</body>
</html>
